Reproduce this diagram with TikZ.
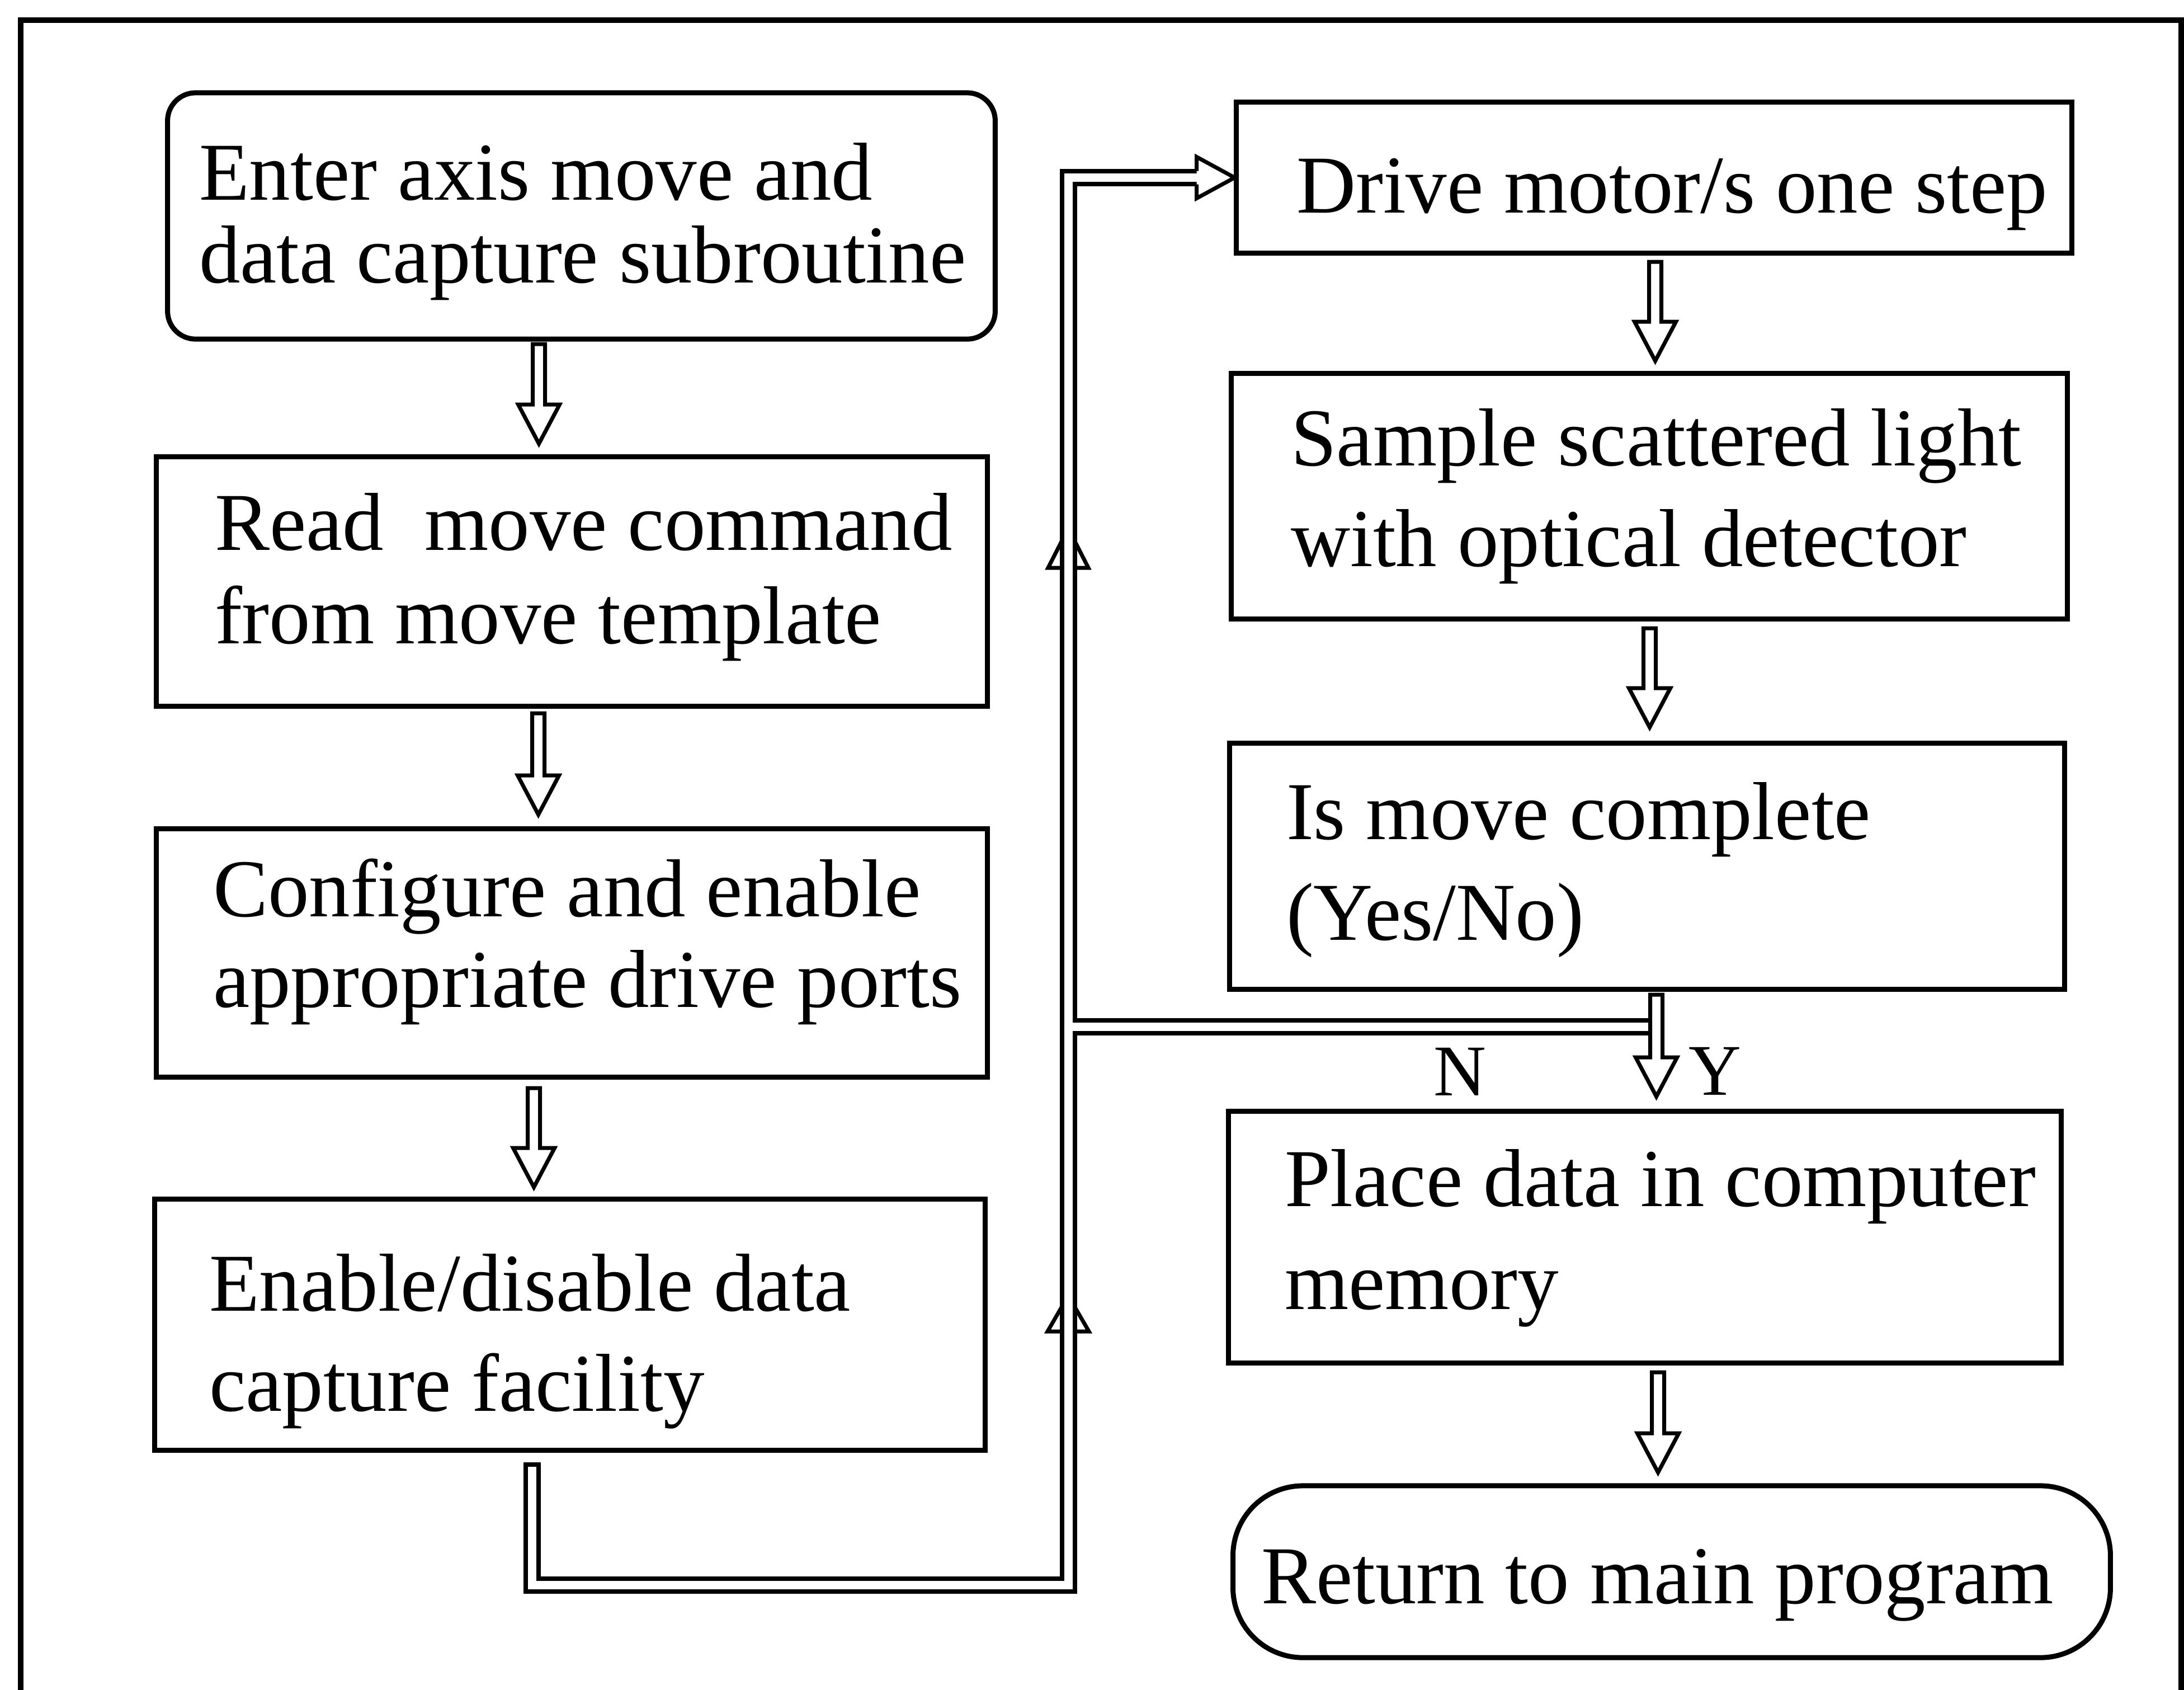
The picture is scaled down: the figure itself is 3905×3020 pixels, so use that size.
\documentclass[tikz,border=0pt]{standalone}
\usepackage{fontspec}
\setmainfont{Liberation Serif}
\usetikzlibrary{calc}
\begin{document}
\begin{tikzpicture}[x=0.01cm,y=-0.01cm,
  box/.style={draw,line width=0.09cm,inner sep=0pt,outer sep=0pt},
  txt/.style={anchor=base west,inner sep=0pt,outer sep=0pt,font=\fontsize{41.8pt}{48pt}\selectfont},
  lbl/.style={anchor=base west,inner sep=0pt,outer sep=0pt,font=\fontsize{37pt}{44pt}\selectfont},
  harrow/.style={draw,fill=white,line width=0.07cm,line join=miter},
  chanblack/.style={draw=black,line width=0.31cm,line join=miter},
  chanwhite/.style={draw=white,line width=0.15cm,line join=miter},
  barb/.style={draw,line width=0.07cm,line join=miter}]
\useasboundingbox (0,0) rectangle (3905,3020);
\fill[white] (0,0) rectangle (3905,3020);
% frame
\draw[line width=0.1cm] (37,3040) -- (37,36) -- (3900,36) -- (3900,3040);

% boxes
\node[box,minimum width=14.79cm,minimum height=4.40cm,rounded corners=0.5cm] (b1) at (1039.5,386) {};
\node[box,minimum width=14.85cm,minimum height=4.45cm] (b2) at (1022.5,1039.5) {};
\node[box,minimum width=14.85cm,minimum height=4.43cm] (b3) at (1022.5,1703.5) {};
\node[box,minimum width=14.84cm,minimum height=4.48cm] (b4) at (1019,2368) {};
\node[box,minimum width=14.93cm,minimum height=2.69cm] (b5) at (2957.5,317.5) {};
\node[box,minimum width=14.94cm,minimum height=4.38cm] (b6) at (2949,887) {};
\node[box,minimum width=14.92cm,minimum height=4.39cm] (b7) at (2945,1548.5) {};
\node[box,minimum width=14.88cm,minimum height=4.49cm] (b8) at (2941,2211.5) {};
\node[box,minimum width=15.68cm,minimum height=3.07cm,rounded corners=1.25cm] (b9) at (2989,2809.5) {};

% texts
\node[txt] (t1a) at (356,357) {Enter axis move and};
\node[txt] (t1b) at (356,505) {data capture subroutine};
\node[txt] (t2a) at (384,983) {Read~~move command};
\node[txt] (t2b) at (384,1150) {from move template};
\node[txt] (t3a) at (381,1638) {Configure and enable};
\node[txt] (t3b) at (381,1800) {appropriate drive ports};
\node[txt] (t4a) at (374,2343) {Enable/disable data};
\node[txt] (t4b) at (374,2522) {capture facility};
\node[txt] (t5) at (2318,380) {Drive motor/s one step};
\node[txt] (t6a) at (2308,832) {Sample scattered light};
\node[txt] (t6b) at (2308,1012) {with optical detector};
\node[txt] (t7a) at (2300,1500) {Is move complete};
\node[txt] (t7b) at (2300,1680) {(Yes/No)};
\node[txt] (t8a) at (2297,2156) {Place data in computer};
\node[txt] (t8b) at (2297,2340) {memory};
\node[txt] (t9) at (2255,2866) {Return to main program};

% hollow down arrows
\draw[harrow] ($(b1.south west)+(664,9)$) ++(-11,0) -- ++(22,0) -- ++(0,108) -- ++(26,0) -- ++(-37,70) -- ++(-37,-70) -- ++(26,0) -- cycle;
\draw[harrow] ($(b2.south west)+(683,13)$) ++(-11,0) -- ++(22,0) -- ++(0,111) -- ++(26,0) -- ++(-37,70) -- ++(-37,-70) -- ++(26,0) -- cycle;
\draw[harrow] ($(b3.south west)+(675,20)$) ++(-11,0) -- ++(22,0) -- ++(0,107) -- ++(26,0) -- ++(-37,70) -- ++(-37,-70) -- ++(26,0) -- cycle;
\draw[harrow] ($(b5.south west)+(749,16)$) ++(-11,0) -- ++(22,0) -- ++(0,107) -- ++(26,0) -- ++(-37,70) -- ++(-37,-70) -- ++(26,0) -- cycle;
\draw[harrow] ($(b6.south west)+(748,17)$) ++(-11,0) -- ++(22,0) -- ++(0,107) -- ++(26,0) -- ++(-37,70) -- ++(-37,-70) -- ++(26,0) -- cycle;
\draw[harrow] ($(b8.south west)+(768,17)$) ++(-11,0) -- ++(22,0) -- ++(0,109) -- ++(26,0) -- ++(-37,70) -- ++(-37,-70) -- ++(26,0) -- cycle;

% double-line loop channel
\coordinate (ch0) at ($(b4.south west)+(675,22)$);
\coordinate (chc) at (1910,2833);
\coordinate (ch5) at ($(b5.west)+(-71,0)$);
\coordinate (nj) at ($(b7.south west)+(752,67)$);
\draw[chanblack] (ch0) |- (chc) |- (ch5);
\draw[chanblack] (nj -| chc) -- (nj);
\draw[chanwhite] ($(ch0)+(0,8)$) |- (chc) |- (ch5);
\draw[chanwhite] (nj -| chc) -- (nj);
% head into Drive motor box
\draw[harrow] ($(ch5)+(0,-12)$) -- ($(ch5)+(0,-37)$) -- ($(b5.west)+(-3,0)$) -- ($(ch5)+(0,37)$) -- ($(ch5)+(0,12)$);
% Y arrow
\draw[harrow] ($(b7.south west)+(763,10)$) ++(-11,0) -- ++(22,0) -- ++(0,112) -- ++(26,0) -- ++(-37,70) -- ++(-37,-70) -- ++(26,0) -- cycle;
% up barbs on the channel
\coordinate (up1) at (1910,1015);
\coordinate (up2) at (1910,2380);
\draw[barb] ($(up1)+(-11.5,-48)$) -- ($(up1)+(-36,0)$) -- ($(up1)+(-11.5,0)$);
\draw[barb] ($(up1)+(11.5,-48)$) -- ($(up1)+(36,0)$) -- ($(up1)+(11.5,0)$);
\draw[barb] ($(up2)+(-11.5,-44)$) -- ($(up2)+(-37,0)$) -- ($(up2)+(-11.5,0)$);
\draw[barb] ($(up2)+(11.5,-44)$) -- ($(up2)+(37,0)$) -- ($(up2)+(11.5,0)$);

% labels
\node[lbl] (lN) at (2563,1958) {N};
\node[lbl] (lY) at (3019,1957) {Y};
\end{tikzpicture}
\end{document}
